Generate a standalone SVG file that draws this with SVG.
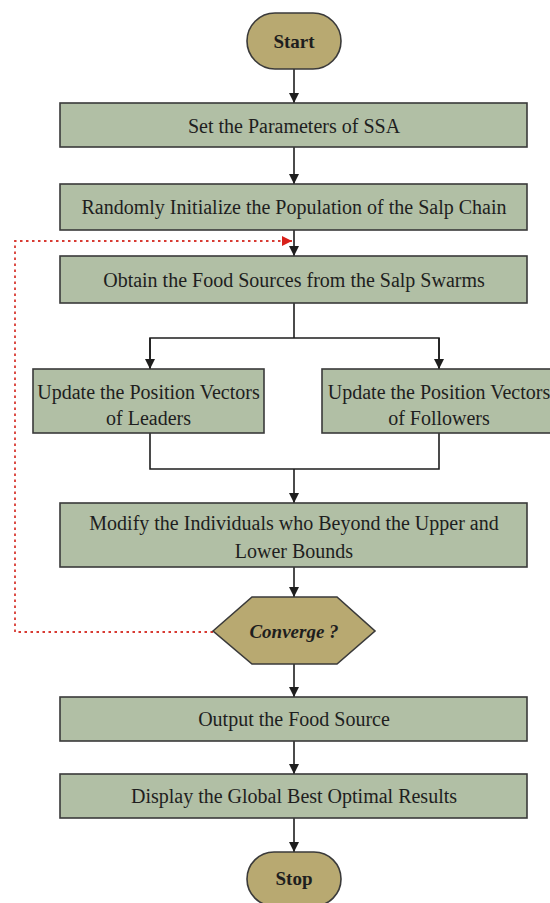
<svg xmlns="http://www.w3.org/2000/svg" width="550" height="903" viewBox="0 0 550 903">
<style>
.box{fill:#b1bfa5;stroke:#3a3a3a;stroke-width:1.6}
.term{fill:#b8a971;stroke:#3a3a3a;stroke-width:1.6}
.t{font-family:"Liberation Serif","Times New Roman",serif;font-size:20px;fill:#1e1e1e;text-anchor:middle}
.tb{font-family:"Liberation Serif","Times New Roman",serif;font-size:19px;font-weight:bold;fill:#1e1e1e;text-anchor:middle}
.conn{fill:none;stroke:#1e1e1e;stroke-width:1.6}
.loop{fill:none;stroke:#d83a32;stroke-width:1.8;stroke-dasharray:2.5 3.5}
</style>
<defs>
<marker id="ah" viewBox="0 0 10 10" refX="10" refY="5" markerWidth="10" markerHeight="10" markerUnits="userSpaceOnUse" orient="auto"><path d="M0,0 L10,5 L0,10 z" fill="#1e1e1e"/></marker>
<marker id="ahr" viewBox="0 0 10 10" refX="10" refY="5" markerWidth="10" markerHeight="10" markerUnits="userSpaceOnUse" orient="auto"><path d="M0,0 L10,5 L0,10 z" fill="#d8201a"/></marker>
</defs>
<g id="connectors">
<line class="conn" x1="294" y1="69" x2="294" y2="103" marker-end="url(#ah)"/>
<line class="conn" x1="294" y1="147" x2="294" y2="184" marker-end="url(#ah)"/>
<line class="conn" x1="294" y1="230" x2="294" y2="256" marker-end="url(#ah)"/>
<polyline class="conn" points="294,303 294,338"/>
<polyline class="conn" points="150,369 150,338 439,338 439,369"/>
<line class="conn" x1="150" y1="338" x2="150" y2="369" marker-end="url(#ah)"/>
<line class="conn" x1="439" y1="338" x2="439" y2="369" marker-end="url(#ah)"/>
<polyline class="conn" points="150,433 150,469 439,469 439,433"/>
<line class="conn" x1="294" y1="469" x2="294" y2="503" marker-end="url(#ah)"/>
<line class="conn" x1="294" y1="567" x2="294" y2="597" marker-end="url(#ah)"/>
<line class="conn" x1="294" y1="664" x2="294" y2="697" marker-end="url(#ah)"/>
<line class="conn" x1="294" y1="741" x2="294" y2="774" marker-end="url(#ah)"/>
<line class="conn" x1="294" y1="818" x2="294" y2="852" marker-end="url(#ah)"/>
<polyline class="loop" points="213,632 15,632 15,241 292,241" marker-end="url(#ahr)"/>
</g>
<g id="start"><rect class="term" x="247" y="13" width="94" height="56" rx="28"/><text class="tb" x="294" y="48">Start</text></g>
<g id="set-params"><rect class="box" x="60" y="103" width="467" height="44"/><text class="t" x="294" y="133">Set the Parameters of SSA</text></g>
<g id="init-pop"><rect class="box" x="60" y="184" width="467" height="46"/><text class="t" x="294" y="214">Randomly Initialize the Population of the Salp Chain</text></g>
<g id="obtain-food"><rect class="box" x="60" y="256" width="467" height="47"/><text class="t" x="294" y="287">Obtain the Food Sources from the Salp Swarms</text></g>
<g id="update-leaders"><rect class="box" x="33" y="369" width="231" height="64"/><text class="t" x="148.5" y="399">Update the Position Vectors</text><text class="t" x="148.5" y="425">of Leaders</text></g>
<g id="update-followers"><rect class="box" x="322" y="369" width="234" height="64"/><text class="t" x="439" y="399">Update the Position Vectors</text><text class="t" x="439" y="425">of Followers</text></g>
<g id="modify"><rect class="box" x="60" y="503" width="467" height="64"/><text class="t" x="294" y="530">Modify the Individuals who Beyond the Upper and</text><text class="t" x="294" y="558">Lower Bounds</text></g>
<g id="converge"><polygon class="term" points="213,631 252,597 337,597 375,631 337,664 252,664"/><text class="tb" x="294" y="638" font-style="italic">Converge ?</text></g>
<g id="output"><rect class="box" x="60" y="697" width="467" height="44"/><text class="t" x="294" y="726">Output the Food Source</text></g>
<g id="display"><rect class="box" x="60" y="774" width="467" height="44"/><text class="t" x="294" y="803">Display the Global Best Optimal Results</text></g>
<g id="stop"><rect class="term" x="247" y="852" width="94" height="54" rx="27"/><text class="tb" x="294" y="885">Stop</text></g>
</svg>
